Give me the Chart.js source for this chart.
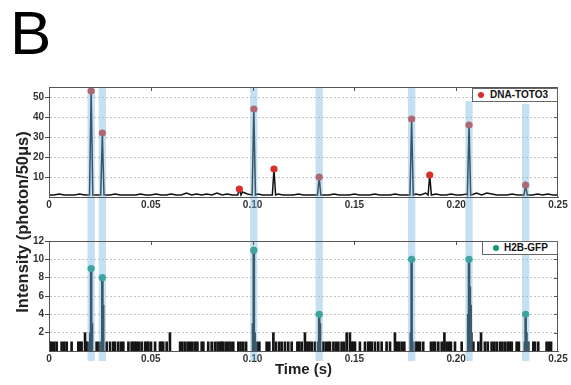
<!DOCTYPE html>
<html><head><meta charset="utf-8">
<script src="https://cdn.jsdelivr.net/npm/chart.js@4.4.0/dist/chart.umd.min.js"></script>
<style>
html,body{margin:0;padding:0;background:#fff;}
#wrap{position:relative;width:571px;height:385px;overflow:hidden;background:#fff;font-family:'Liberation Sans',Arial,sans-serif;}
canvas{position:absolute;left:0;}
#panel{position:absolute;left:10px;top:2px;font-size:62px;line-height:62px;color:#000;}
#ytitle{position:absolute;left:-128px;top:212px;width:300px;height:20px;line-height:20px;text-align:center;font-size:16.5px;font-weight:bold;color:#222;transform:rotate(-90deg);white-space:nowrap;}
.legend{position:absolute;height:14px;border:1px solid #666;background:#fff;box-sizing:border-box;font-size:10px;font-weight:bold;color:#111;}
.legend .dot{position:absolute;top:3px;width:6px;height:6px;border-radius:50%;}
.legend .txt{position:absolute;top:0;line-height:12px;white-space:nowrap;}
</style></head>
<body>
<div id="wrap">
  <canvas id="c1" width="571" height="225" style="top:0"></canvas>
  <canvas id="c2" width="571" height="160" style="top:225px"></canvas>
  <div id="panel">B</div>
  <div id="ytitle">Intensity (photon/50μs)</div>
  <div class="legend" style="left:472px;top:88px;width:86px;"><span class="dot" style="left:5px;background:#d8312d"></span><span class="txt" style="left:17px">DNA-TOTO3</span></div>
  <div class="legend" style="left:482px;top:241px;width:76px;"><span class="dot" style="left:10px;background:#17996f"></span><span class="txt" style="left:21px">H2B-GFP</span></div>
</div>
<script>
// ---- data ----
const xTickValues = [0, 0.05, 0.10, 0.15, 0.20, 0.25];
const xTickLabels = ['0', '0.05', '0.10', '0.15', '0.20', '0.25'];
const totoYTicks = [10, 20, 30, 40, 50];
const gfpYTicks = [2, 4, 6, 8, 10, 12];

// DNA-TOTO3 baseline trace, sampled every 2.5 ms from 0 to 0.25 s
const totoBaseStep = 0.0025;
const totoBaseValues = [
  1,1,1.5,1,1,1,1.5,1,1,1,
  1,1,1,1.5,1,1,1,1,1.5,1,
  1,1.5,1,1,1.5,1,1,2,1,1.5,
  1,1.5,1,2,1,1.5,1,1,2.5,1.5,
  1,1.5,1,1,1,1.5,1,1,1,1.5,
  1,1,1,1.5,1,1,1.5,1,1,1,
  1.5,1,1,1,1.5,1,1,1,1.5,1,
  1,1,1.5,1,2,1,1.5,1,1,1.5,
  1,1,1.5,1,2,1,2,1.5,1,1,
  1,1.5,1,1,2,1,1.5,1,1.5,1,1
];
// DNA-TOTO3 burst peaks (time in s, photons/50us)
const totoPeakTimes  = [0.0207, 0.0262, 0.0935, 0.1006, 0.1105, 0.1327, 0.1781, 0.1870, 0.2063, 0.2341];
const totoPeakValues = [53, 32, 4, 44, 14, 10, 39, 11, 36, 6];

// H2B-GFP single-photon and two-photon bins
const gfpOnesTimes = [
  0.0005,0.0013,0.0026,0.0038,0.0062,0.0075,0.0087,0.0111,0.0144,0.0152,0.0160,0.0185,0.0193,
  0.0234,0.0247,0.0283,0.0300,0.0316,0.0324,0.0340,0.0354,0.0365,0.0390,0.0406,0.0414,0.0422,
  0.0431,0.0442,0.0455,0.0472,0.0480,0.0488,0.0501,0.0521,0.0545,0.0553,0.0561,0.0578,0.0644,
  0.0655,0.0668,0.0681,0.0693,0.0704,0.0717,0.0729,0.0750,0.0758,0.0782,0.0799,0.0815,0.0828,
  0.0840,0.0848,0.0856,0.0869,0.0881,0.0892,0.0905,0.0930,0.0941,0.0954,0.0968,0.1012,0.1020,
  0.1033,0.1069,0.1082,0.1115,0.1131,0.1143,0.1159,0.1175,0.1192,0.1220,0.1229,0.1241,0.1269,
  0.1279,0.1290,0.1306,0.1347,0.1360,0.1372,0.1380,0.1397,0.1410,0.1421,0.1437,0.1449,0.1487,
  0.1495,0.1503,0.1527,0.1552,0.1568,0.1577,0.1585,0.1601,0.1617,0.1634,0.1658,0.1675,0.1708,
  0.1719,0.1732,0.1745,0.1801,0.1811,0.1822,0.1838,0.1876,0.1888,0.1896,0.1912,0.1929,0.1953,
  0.1965,0.1974,0.1994,0.2027,0.2084,0.2109,0.2141,0.2155,0.2174,0.2187,0.2199,0.2215,0.2227,
  0.2240,0.2253,0.2264,0.2273,0.2297,0.2308,0.2354,0.2379,0.2387,0.2403,0.2444,0.2456,0.2466
];
const gfpTwosTimes = [0.0177, 0.0594, 0.1102, 0.1257, 0.1462, 0.1478, 0.1699, 0.1942, 0.2122];
// H2B-GFP burst bins
const gfpPeakTimes = [
  0.0203,0.0207,0.0211, 0.0258,0.0262,0.0266, 0.1002,0.1006,0.1010, 0.1323,0.1327,0.1331,
  0.1777,0.1781,0.1785, 0.2059,0.2063,0.2067,0.2071,0.2075, 0.2337,0.2341,0.2345
];
const gfpPeakValues = [
  2,9,3, 1,8,5, 3,11,2, 1,4,3,
  2,10,1, 4,10,7,5,2, 1,4,2
];
const gfpDotTimes  = [0.0207, 0.0262, 0.1006, 0.1327, 0.1781, 0.2063, 0.2341];
const gfpDotValues = [9, 8, 11, 4, 10, 10, 4];

// coincident burst windows (s) and top extent in the TOTO3 panel
const bandTimes = [0.0207, 0.0262, 0.1006, 0.1327, 0.1781, 0.2063, 0.2341];
const bandTopValues = [55, 55, 55, 55, 55, 48, 46.5];

// ---- styling constants ----
const BAND_WIDTH = 0.0036;
const PEAK_HALF = 0.0008;
const RED = '#d8312d', GREEN = '#17996f';

Chart.defaults.font.family = "'Liberation Sans', Arial, sans-serif";

// build TOTO3 trace
const totoTrace = [];
totoBaseValues.forEach((v, i) => {
  const t = i * totoBaseStep;
  if (!totoPeakTimes.some(p => Math.abs(p - t) < PEAK_HALF * 1.5)) totoTrace.push({x: t, y: v});
});
totoPeakTimes.forEach((t, i) => {
  totoTrace.push({x: t - PEAK_HALF, y: 1}, {x: t, y: totoPeakValues[i]}, {x: t + PEAK_HALF, y: 1});
});
totoTrace.sort((a, b) => a.x - b.x);
const totoDots = totoPeakTimes.map((t, i) => ({x: t, y: totoPeakValues[i]}));

// build GFP bars
const gfpBars = [
  ...gfpOnesTimes.map(t => ({x: t, y: 1})),
  ...gfpTwosTimes.map(t => ({x: t, y: 2})),
  ...gfpPeakTimes.map((t, i) => ({x: t, y: gfpPeakValues[i]}))
];
const gfpDots = gfpDotTimes.map((t, i) => ({x: t, y: gfpDotValues[i]}));

function bandPlugin(isTop) {
  return {
    id: 'bands',
    afterDatasetsDraw(chart) {
      const {ctx, chartArea, scales: {x, y}} = chart;
      ctx.save();
      ctx.fillStyle = 'rgba(115,180,222,0.42)';
      bandTimes.forEach((t, i) => {
        const x1 = x.getPixelForValue(t - BAND_WIDTH / 2);
        const x2 = x.getPixelForValue(t + BAND_WIDTH / 2);
        let y1, y2;
        if (isTop) { y1 = Math.max(chartArea.top, y.getPixelForValue(bandTopValues[i])); y2 = chart.height; }
        else { y1 = 0; y2 = chartArea.bottom + 10; }
        ctx.fillRect(x1, y1, x2 - x1, y2 - y1);
      });
      ctx.restore();
    }
  };
}
const framePlugin = {
  id: 'frame',
  afterDatasetsDraw(chart) {
    const {ctx, chartArea: a, scales: {x, y}} = chart;
    ctx.save();
    ctx.strokeStyle = '#555';
    ctx.lineWidth = 1;
    ctx.strokeRect(Math.round(a.left) + 0.5, Math.round(a.top) + 0.5, Math.round(a.right - a.left) - 1, Math.round(a.bottom - a.top));
    ctx.beginPath();
    xTickValues.slice(1, -1).forEach(v => {
      const px = Math.round(x.getPixelForValue(v)) + 0.5;
      ctx.moveTo(px, a.top); ctx.lineTo(px, a.top + 4);
    });
    y.ticks.forEach(tk => {
      const py = Math.round(y.getPixelForValue(tk.value)) + 0.5;
      ctx.moveTo(a.right, py); ctx.lineTo(a.right - 4, py);
    });
    ctx.stroke();
    ctx.restore();
  }
};

function xScale(height, withTitle) {
  return {
    type: 'linear', min: 0, max: 0.25, offset: false,
    afterBuildTicks: s => { s.ticks = xTickValues.map(v => ({value: v})); },
    afterFit: s => { s.height = height; },
    ticks: {callback: (v, i) => xTickLabels[i], font: {size: 10, weight: 'bold'}, color: '#333', padding: 2, maxRotation: 0, autoSkip: false},
    grid: {display: false, drawTicks: false},
    border: {display: true, color: '#555'},
    title: withTitle ? {display: true, text: 'Time (s)', font: {size: 15, weight: 'bold'}, color: '#222', padding: {top: 0, bottom: 6}} : {display: false}
  };
}
function yScale(min, max, ticks) {
  return {
    min, max,
    afterBuildTicks: s => { s.ticks = ticks.map(v => ({value: v})); },
    afterFit: s => { s.width = 49; },
    ticks: {font: {size: 10, weight: 'bold'}, color: '#333', padding: 1},
    grid: {color: '#c4c4c4', lineWidth: 1, drawTicks: true, tickLength: 4, tickColor: '#444', tickBorderDash: []},
    border: {display: true, color: '#555', dash: [2, 2]}
  };
}

new Chart(document.getElementById('c1'), {
  type: 'line',
  data: {datasets: [
    {type: 'scatter', data: totoDots, pointRadius: 3.6, pointBackgroundColor: RED, pointBorderWidth: 0, order: 0},
    {type: 'line', data: totoTrace, borderColor: '#111', borderWidth: 1.5, pointRadius: 0, tension: 0, fill: false, order: 1}
  ]},
  options: {
    responsive: false, animation: false, events: [],
    layout: {padding: {left: 0, top: 87, right: 13, bottom: 0}},
    plugins: {legend: {display: false}, tooltip: {enabled: false}},
    scales: {x: xScale(28, false), y: yScale(0, 55, totoYTicks)}
  },
  plugins: [bandPlugin(true), framePlugin]
});

new Chart(document.getElementById('c2'), {
  type: 'bar',
  data: {datasets: [
    {type: 'scatter', data: gfpDots, pointRadius: 3.6, pointBackgroundColor: GREEN, pointBorderWidth: 0, order: 0},
    {type: 'bar', data: gfpBars, backgroundColor: '#151515', barThickness: 2, grouped: false, order: 1}
  ]},
  options: {
    responsive: false, animation: false, events: [],
    layout: {padding: {left: 0, top: 16, right: 13, bottom: 0}},
    plugins: {legend: {display: false}, tooltip: {enabled: false}},
    scales: {x: xScale(34, true), y: yScale(0, 12, gfpYTicks)}
  },
  plugins: [bandPlugin(false), framePlugin]
});
</script>
</body></html>
